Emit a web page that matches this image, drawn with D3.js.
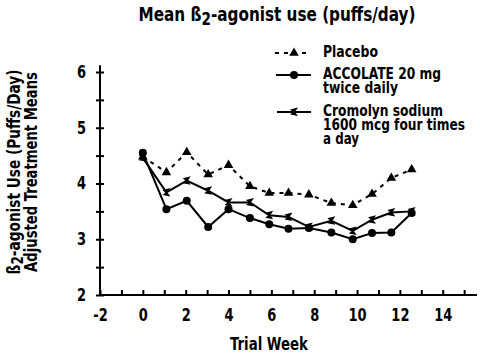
<!DOCTYPE html>
<html>
<head>
<meta charset="utf-8">
<script src="https://cdn.jsdelivr.net/npm/d3@7"></script>
<style>
  body { margin: 0; background: #fff; }
  svg { display: block; }
  text { font-family: "DejaVu Sans Condensed", "DejaVu Sans", sans-serif; font-weight: bold; fill: #000; }
</style>
</head>
<body>
<svg id="chart" width="480" height="354"></svg>
<script>
// data
const weeks = [0, 1.1, 2.05, 3.05, 4, 5, 5.9, 6.8, 7.75, 8.8, 9.8, 10.7, 11.6, 12.55];
const placebo = [4.48, 4.2, 4.56, 4.16, 4.33, 3.95, 3.83, 3.83, 3.8, 3.65, 3.61, 3.81, 4.1, 4.25];
const accolate = [4.55, 3.54, 3.69, 3.22, 3.54, 3.38, 3.27, 3.19, 3.2, 3.12, 3.0, 3.11, 3.12, 3.47];
const cromolyn = [4.46, 3.84, 4.05, 3.87, 3.66, 3.66, 3.43, 3.4, 3.22, 3.33, 3.15, 3.35, 3.48, 3.5];
const seriesNames = [['Placebo'], ['ACCOLATE 20 mg', 'twice daily'], ['Cromolyn sodium', '1600 mcg four times', 'a day']];
const xTicks = d3.range(-2, 16);
const yTicks = d3.range(2, 6.01, 0.5);

const svg = d3.select('#chart');

// squeeze a text horizontally to a given width, around its anchor x
function fitWidth(sel, w, ax) {
  const bw = sel.node().getBBox().width;
  const s = w / bw;
  sel.attr('transform', `translate(${ax},0) scale(${s},1) translate(${-ax},0)`);
}

// scales
const x = d3.scaleLinear().domain([-2, 15.6]).range([100, 477]);
const y = d3.scaleLinear().domain([2, 6]).range([295, 72]);

// title
const title = svg.append('text')
  .attr('x', 277)
  .attr('y', 21)
  .attr('text-anchor', 'middle')
  .style('font-size', '19px');
title.append('tspan').text('Mean ß');
title.append('tspan').attr('dy', 4).style('font-size', '17px').text('2');
title.append('tspan').attr('dy', -4).text('-agonist use (puffs/day)');
fitWidth(title, 277, 277);

// axes
const xAxis = d3.axisBottom(x)
  .tickValues(xTicks)
  .tickSize(-5)
  .tickPadding(14)
  .tickFormat(d => (d % 2 === 0 && d < 15 ? d : ''));

const yAxis = d3.axisLeft(y)
  .tickValues(yTicks)
  .tickSize(4)
  .tickPadding(10)
  .tickFormat(d => (d % 1 === 0 ? d : ''));

const xAxisGroup = svg.append('g')
  .attr('transform', `translate(0, ${y(2)})`)
  .call(xAxis);

const yAxisGroup = svg.append('g')
  .attr('transform', `translate(${x(-2)}, 0)`)
  .call(yAxis);

xAxisGroup.select('.domain').remove();
yAxisGroup.select('.domain').remove();

// axis lines
svg.append('line')
  .attr('x1', x(-2)).attr('x2', x(15.6))
  .attr('y1', y(2)).attr('y2', y(2))
  .attr('stroke', '#000').attr('stroke-width', 2);
svg.append('line')
  .attr('x1', x(-2)).attr('x2', x(-2))
  .attr('y1', y(2)).attr('y2', y(6.12))
  .attr('stroke', '#000').attr('stroke-width', 2);

xAxisGroup.selectAll('.tick line').attr('stroke-width', 2);
yAxisGroup.selectAll('.tick line').attr('x1', -4).attr('x2', 4).attr('stroke-width', 2);
xAxisGroup.selectAll('text')
  .style('font-size', '17px').attr('fill', '#000')
  .attr('transform', 'scale(0.85,1)');
yAxisGroup.selectAll('text')
  .style('font-size', '17px').attr('fill', '#000')
  .attr('transform', 'translate(-14,0) scale(0.85,1) translate(14,0)');

// axis titles
const xTitle = svg.append('text')
  .attr('x', 269)
  .attr('y', 350)
  .attr('text-anchor', 'middle')
  .style('font-size', '18px')
  .text('Trial Week');
fitWidth(xTitle, 79, 269);

const yTitle = svg.append('g').attr('transform', 'translate(0, 172) rotate(-90)');
const yLine1 = yTitle.append('text')
  .attr('x', 0).attr('y', 20)
  .attr('text-anchor', 'middle')
  .style('font-size', '17px');
yLine1.append('tspan').text('ß');
yLine1.append('tspan').attr('dy', 3).style('font-size', '15px').text('2');
yLine1.append('tspan').attr('dy', -3).text('-agonist Use (Puffs/Day)');
fitWidth(yLine1, 205, 0);
const yLine2 = yTitle.append('text')
  .attr('x', 0).attr('y', 37)
  .attr('text-anchor', 'middle')
  .style('font-size', '17px')
  .text('Adjusted Treatment Means');
fitWidth(yLine2, 200, 0);

// markers
const tri = d3.symbol().type(d3.symbolTriangle).size(40);
const bowtie = 'M-4,-2.5 L4,-4.5 L1,0 L4,4 L-4,2.5 L-1,0 Z';

const line = d3.line()
  .x((d, i) => x(weeks[i]))
  .y(d => y(d));

// placebo
svg.append('path')
  .attr('d', line(placebo))
  .attr('fill', 'none')
  .attr('stroke', '#000')
  .attr('stroke-width', 2)
  .attr('stroke-dasharray', '4,5');
svg.selectAll('.tri')
  .data(placebo)
  .enter()
  .append('path')
  .attr('class', 'tri')
  .attr('d', tri)
  .attr('transform', (d, i) => `translate(${x(weeks[i])}, ${y(d)})`);

// cromolyn
svg.append('path')
  .attr('d', line(cromolyn))
  .attr('fill', 'none')
  .attr('stroke', '#000')
  .attr('stroke-width', 2);
svg.selectAll('.bow')
  .data(cromolyn)
  .enter()
  .append('path')
  .attr('class', 'bow')
  .attr('d', bowtie)
  .attr('transform', (d, i) => `translate(${x(weeks[i])}, ${y(d)})`);

// accolate
svg.append('path')
  .attr('d', line(accolate))
  .attr('fill', 'none')
  .attr('stroke', '#000')
  .attr('stroke-width', 2);
svg.selectAll('.dot')
  .data(accolate)
  .enter()
  .append('circle')
  .attr('class', 'dot')
  .attr('r', 4)
  .attr('cx', (d, i) => x(weeks[i]))
  .attr('cy', d => y(d));

// legend
const legend = svg.append('g');
legend.append('line')
  .attr('x1', 275).attr('x2', 310).attr('y1', 53).attr('y2', 53)
  .attr('stroke', '#000').attr('stroke-width', 2).attr('stroke-dasharray', '4,5');
legend.append('path').attr('d', tri).attr('transform', 'translate(294, 53)');
legend.append('line')
  .attr('x1', 276).attr('x2', 311).attr('y1', 75).attr('y2', 75)
  .attr('stroke', '#000').attr('stroke-width', 2);
legend.append('circle').attr('cx', 294).attr('cy', 75).attr('r', 4);
legend.append('line')
  .attr('x1', 277).attr('x2', 311).attr('y1', 112).attr('y2', 112)
  .attr('stroke', '#000').attr('stroke-width', 2);
legend.append('path').attr('d', bowtie).attr('transform', 'translate(294, 112)');

// one text per entry, one tspan per line, squeezed to the reference widths
const labelY = [57, 79, 116];
const labelW = [[55], [118, 75], [120, 142, 36]];
seriesNames.forEach((lines, k) => {
  const t = legend.append('text')
    .attr('x', 323)
    .attr('y', labelY[k])
    .style('font-size', '15px');
  lines.forEach((s, j) => {
    t.append('tspan')
      .attr('x', 323)
      .attr('dy', j === 0 ? 0 : 14)
      .attr('textLength', labelW[k][j])
      .attr('lengthAdjust', 'spacingAndGlyphs')
      .text(s);
  });
});
</script>
</body>
</html>
